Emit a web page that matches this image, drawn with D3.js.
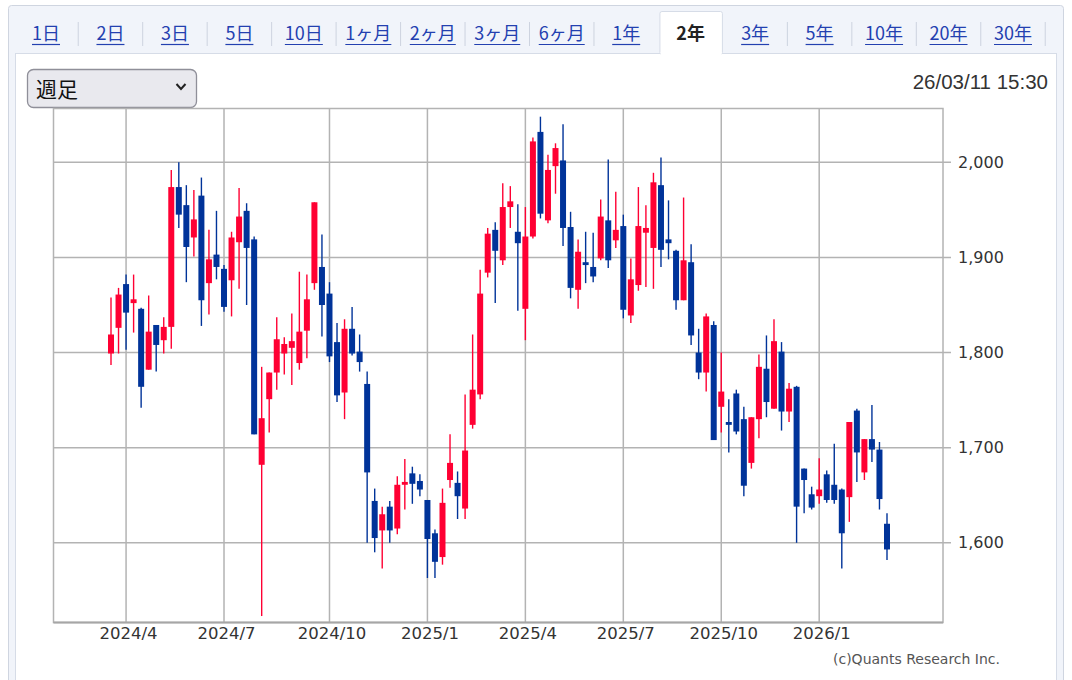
<!DOCTYPE html>
<html lang="ja">
<head>
<meta charset="utf-8">
<script src="https://cdn.jsdelivr.net/npm/d3@7"></script>
<style>
  html, body { margin: 0; padding: 0; background: #ffffff; }
  svg { display: block; }
</style>
</head>
<body>
<svg id="chart" width="1072" height="680"></svg>
<script>
// ---------- data ----------
const periodTabs = ["1日","2日","3日","5日","10日","1ヶ月","2ヶ月","3ヶ月","6ヶ月","1年","2年","3年","5年","10年","20年","30年"];
const activeTab = "2年";
const selectLabel = "週足";
const timestamp = "26/03/11 15:30";
const credit = "(c)Quants Research Inc.";

// weekly candles, week of 2024-03-18 ... week of 2026-03-09
const firstWeek = "2024-03-18";
const lastWeek = "2026-03-09";
const openP  = [1799,1826,1872,1852,1846,1782,1829,1813,1827,1974,1955,1921,1965,1873,1903,1888,1876,1916,1949,1919,
                1682,1751,1779,1799,1805,1789,1823,1873,1890,1862,1811,1758,1825,1801,1767,1644,1613,1638,1615,1661,
                1673,1665,1645,1610,1585,1666,1663,1636,1724,1756,1884,1929,1897,1953,1927,1846,1922,2032,1939,1996,
                2002,1932,1866,1895,1890,1899,1939,1918,1933,1839,1871,1926,1910,1976,1919,1907,1855,1895,1800,1779,
                1829,1743,1727,1757,1730,1684,1730,1783,1741,1801,1738,1764,1678,1651,1649,1672,1661,1656,1648,1739,
                1674,1709,1698,1620];
const highP  = [1858,1868,1882,1882,1847,1860,1829,1837,1992,2000,1976,1971,1984,1929,1949,1892,1927,1973,1957,1922,
                1785,1779,1837,1816,1841,1885,1882,1958,1924,1874,1831,1835,1848,1819,1780,1657,1638,1644,1670,1688,
                1680,1672,1645,1614,1657,1714,1675,1756,1819,1887,1931,1937,1978,1975,1956,1953,2026,2048,2008,2020,
                2040,1948,1919,1927,1926,1961,2003,1969,1945,1899,1974,1955,1989,2005,1960,1908,1963,1914,1825,1841,
                1833,1800,1751,1761,1743,1732,1798,1818,1835,1811,1768,1765,1678,1659,1689,1676,1704,1657,1727,1741,
                1709,1745,1706,1631];
const lowP   = [1787,1799,1803,1821,1742,1782,1780,1799,1804,1931,1874,1901,1828,1840,1877,1843,1838,1867,1850,1714,
                1523,1716,1761,1777,1766,1782,1794,1866,1817,1790,1748,1730,1797,1780,1600,1590,1573,1600,1609,1635,
                1641,1649,1563,1563,1577,1658,1625,1625,1720,1751,1879,1852,1892,1931,1844,1813,1920,1941,1936,1967,
                1912,1857,1846,1873,1874,1897,1889,1910,1836,1831,1865,1869,1867,1890,1898,1845,1855,1808,1772,1759,
                1708,1716,1695,1714,1649,1678,1710,1732,1741,1718,1727,1600,1631,1635,1641,1642,1641,1573,1622,1664,
                1666,1685,1635,1582];
const closeP = [1819,1861,1842,1856,1764,1822,1808,1827,1974,1945,1911,1940,1855,1898,1890,1848,1921,1943,1910,1714,
                1731,1779,1814,1809,1812,1822,1856,1958,1850,1796,1755,1825,1799,1790,1674,1605,1630,1613,1661,1664,
                1662,1656,1604,1580,1642,1684,1649,1697,1761,1862,1925,1907,1953,1959,1915,1922,2022,1946,1992,2015,
                1931,1868,1906,1892,1880,1943,1897,1929,1845,1877,1933,1931,1979,1908,1915,1855,1897,1818,1779,1838,
                1708,1759,1724,1717,1660,1732,1785,1748,1812,1738,1762,1638,1666,1637,1656,1645,1645,1610,1727,1695,
                1709,1698,1646,1593];

// axis ticks
const xTickWeeks  = ["2024-04-01","2024-07-01","2024-10-07","2025-01-06","2025-04-07","2025-07-07","2025-10-06","2026-01-05"];
const xTickLabels = ["2024/4","2024/7","2024/10","2025/1","2025/4","2025/7","2025/10","2026/1"];
const yTickValues = [1600,1700,1800,1900,2000];

// ---------- drawing ----------
(function draw() {
  const parse = d3.timeParse("%Y-%m-%d");
  const weeks = d3.timeMonday.range(parse(firstWeek), d3.timeDay.offset(parse(lastWeek), 1));
  const candles = weeks.map((w, i) => ({ w, o: openP[i], h: highP[i], l: lowP[i], c: closeP[i] }));

  const svg = d3.select("#chart");
  const UP = "#ff0033", DOWN = "#003399", GRID = "#b3b3b3";
  const latin = "'DejaVu Sans', 'Noto Sans', sans-serif";
  const cjk = "'Noto Sans CJK JP', 'Noto Sans', sans-serif";

  // outer frame + tab strip
  svg.append("rect").attr("x", 8.5).attr("y", 5.5).attr("width", 1055).attr("height", 690)
    .attr("rx", 3).attr("fill", "#f1f4fa").attr("stroke", "#cfd5e0");
  svg.append("rect").attr("x", 15.5).attr("y", 53.5).attr("width", 1041).attr("height", 640)
    .attr("fill", "#ffffff").attr("stroke", "#d6dce7");

  const tabX = d3.scalePoint().domain(periodTabs).range([46, 1013]);
  const tabStep = tabX.step();
  const activeIdx = periodTabs.indexOf(activeTab);
  // active tab box
  svg.append("rect").attr("x", tabX(activeTab) - tabStep / 2 + 1.5).attr("y", 11.5)
    .attr("width", tabStep - 2).attr("height", 43).attr("rx", 2)
    .attr("fill", "#ffffff").attr("stroke", "#d6dce7");
  svg.append("rect").attr("x", tabX(activeTab) - tabStep / 2 + 2.2).attr("y", 52)
    .attr("width", tabStep - 3.4).attr("height", 4).attr("fill", "#ffffff");

  // separators
  periodTabs.forEach((t, i) => {
    if (i === activeIdx || i === activeIdx - 1) return;
    const sx = tabX(t) + tabStep / 2;
    svg.append("line").attr("x1", sx).attr("x2", sx).attr("y1", 22).attr("y2", 46)
      .attr("stroke", "#cdd3df").attr("stroke-width", 1);
  });
  const tabG = svg.append("g");
  periodTabs.forEach(t => {
    const active = t === activeTab;
    const txt = tabG.append("text").attr("x", tabX(t)).attr("y", 40)
      .attr("text-anchor", "middle").attr("font-family", cjk).attr("font-size", 18)
      .attr("font-weight", active ? "bold" : "normal")
      .attr("fill", active ? "#222222" : "#2340b0").text(t);
    if (!active) {
      const bb = txt.node().getBBox();
      tabG.append("line").attr("x1", bb.x).attr("x2", bb.x + bb.width)
        .attr("y1", 44.5).attr("y2", 44.5).attr("stroke", "#2340b0").attr("stroke-width", 1.2);
    }
  });

  // select box
  svg.append("rect").attr("x", 27.5).attr("y", 69.5).attr("width", 169).attr("height", 38)
    .attr("rx", 6).attr("fill", "#e9e9ee").attr("stroke", "#8f8f99").attr("stroke-width", 1.3);
  svg.append("text").attr("x", 36).attr("y", 97).attr("font-family", cjk).attr("font-size", 21)
    .attr("fill", "#111").text(selectLabel);
  svg.append("path").attr("d", "M176.5,84 L181,89 L185.5,84").attr("fill", "none")
    .attr("stroke", "#222").attr("stroke-width", 2);

  // timestamp
  svg.append("text").attr("x", 1048).attr("y", 89).attr("text-anchor", "end")
    .attr("font-family", "'Liberation Sans', Arial, sans-serif").attr("font-size", 20.5)
    .attr("fill", "#333").text(timestamp);

  // plot area
  const pL = 53.5, pR = 943, pT = 108.5, pB = 622.5;
  const x = d3.scaleTime().domain([weeks[0], weeks[weeks.length - 1]]).range([111, 887]);
  const y = d3.scaleLinear().domain([1516.2, 2056.6]).range([pB, pT]);

  svg.append("rect").attr("x", pL).attr("y", pT).attr("width", pR - pL).attr("height", pB - pT)
    .attr("fill", "#ffffff").attr("stroke", GRID).attr("stroke-width", 1.5);

  // vertical grid
  svg.append("g").selectAll("line").data(xTickWeeks).join("line")
    .attr("x1", d => x(parse(d))).attr("x2", d => x(parse(d)))
    .attr("y1", pT).attr("y2", pB).attr("stroke", GRID).attr("stroke-width", 1.5);
  // horizontal grid + right ticks
  svg.append("g").selectAll("line").data(yTickValues).join("line")
    .attr("x1", pL).attr("x2", pR + 8).attr("y1", d => y(d)).attr("y2", d => y(d))
    .attr("stroke", GRID).attr("stroke-width", 1.5);

  // right axis labels
  const yAxis = d3.axisRight(y).tickValues(yTickValues).tickFormat(d3.format(",")).tickSize(0).tickPadding(0);
  const yAxisG = svg.append("g").attr("transform", `translate(${pR + 15},0)`).call(yAxis);
  yAxisG.select(".domain").remove();
  yAxisG.selectAll("text").attr("font-family", latin).attr("font-size", 16).attr("fill", "#333");

  // bottom axis labels
  const xAxis = d3.axisBottom(x).tickValues(xTickWeeks.map(parse))
    .tickFormat((d, i) => xTickLabels[i]).tickSize(0).tickPadding(0);
  const xAxisG = svg.append("g").attr("transform", `translate(2,${pB + 5})`).call(xAxis);
  xAxisG.select(".domain").remove();
  xAxisG.selectAll("text").attr("font-family", latin).attr("font-size", 16.5).attr("fill", "#333");

  // candles
  const cg = svg.append("g");
  const bodyW = 6;
  cg.selectAll("line.wick").data(candles).join("line").attr("class", "wick")
    .attr("x1", d => x(d.w)).attr("x2", d => x(d.w))
    .attr("y1", d => y(d.h)).attr("y2", d => y(d.l))
    .attr("stroke", d => d.c >= d.o ? UP : DOWN).attr("stroke-width", 1.4);
  cg.selectAll("rect.body").data(candles).join("rect").attr("class", "body")
    .attr("x", d => x(d.w) - bodyW / 2).attr("width", bodyW)
    .attr("y", d => y(Math.max(d.o, d.c)))
    .attr("height", d => Math.max(1.5, Math.abs(y(d.o) - y(d.c))))
    .attr("fill", d => d.c >= d.o ? UP : DOWN);

  // bottom frame line on top
  svg.append("line").attr("x1", pL).attr("x2", pR).attr("y1", pB).attr("y2", pB)
    .attr("stroke", "#a6a6a6").attr("stroke-width", 2);

  // credit
  svg.append("text").attr("x", 1000).attr("y", 664).attr("text-anchor", "end")
    .attr("font-family", latin).attr("font-size", 14).attr("fill", "#555").text(credit);
})();
</script>
</body>
</html>
